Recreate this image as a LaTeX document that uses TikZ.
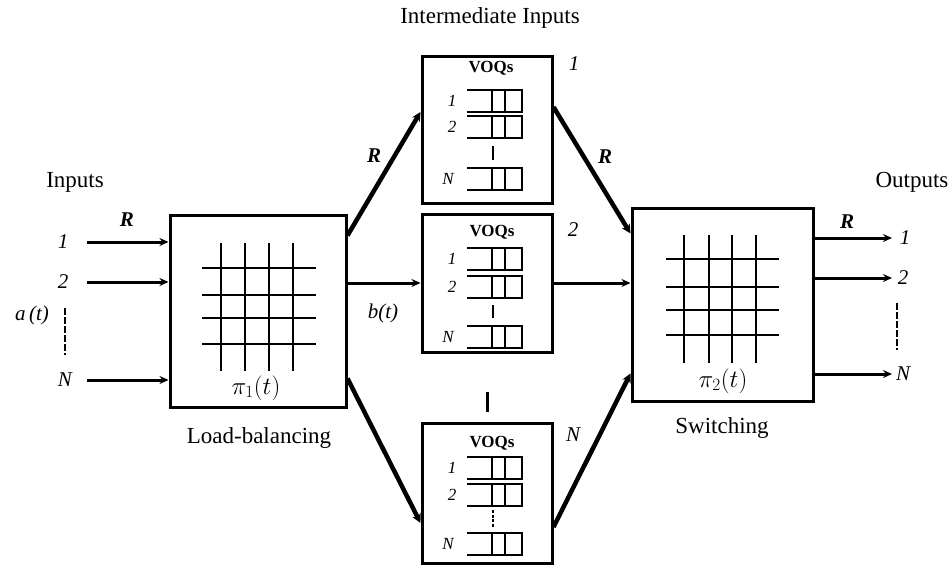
\documentclass[tikz,border=0pt]{standalone}
\usepackage{fontspec}
\setmainfont{Liberation Serif}
\usetikzlibrary{arrows.meta}
\begin{document}
\begin{tikzpicture}[x=1pt,y=-1pt,
  box/.style={draw, line width=3pt, inner sep=0pt},
  arr/.style={line width=3pt, -{Stealth[length=9pt,width=8pt]}},
  diag/.style={line width=4.5pt, -{Stealth[length=9pt,width=9pt]}},
  gridl/.style={line width=2pt},
  qline/.style={line width=1.8pt},
  big/.style={font=\fontsize{23}{25}\selectfont},
  lab/.style={font=\fontsize{21}{24}\selectfont\itshape},
  rlab/.style={font=\fontsize{21}{24}\selectfont\bfseries\itshape},
  qlab/.style={font=\fontsize{17}{19}\selectfont\itshape},
  voq/.style={font=\fontsize{17}{19}\selectfont\bfseries},
  pilab/.style={font=\fontsize{23}{26}\selectfont},
  dashv/.style={line width=1.2pt, dash pattern=on 7pt off 2pt},
  queue/.pic={
    \draw[qline] (0,0) -- (55,0) -- (55,22) -- (0,22);
    \draw[qline] (25,0) -- (25,22) (38,0) -- (38,22);
  }
]
\useasboundingbox (0,0) rectangle (950,567);

% titles
\node[big] (tin) at (75,182) {Inputs};
\node[big] (tint) at (490,18) {Intermediate Inputs};
\node[big] (tout) at (912,182) {Outputs};
\node[big] (tlb) at (259,438) {Load-balancing};
\node[big] (tsw) at (722,428) {Switching};

% switches
\node[box, minimum width=176pt, minimum height=192pt] (sw1) at (258,311) {};
\node[box, minimum width=181pt, minimum height=193pt] (sw2) at (722.5,304.5) {};

% grids
\foreach \x in {221,245,269,293} \draw[gridl] (\x,243) -- (\x,371);
\foreach \y in {268,295,318,344} \draw[gridl] (202,\y) -- (316,\y);
\foreach \x in {684,709,732,756} \draw[gridl] (\x,235) -- (\x,363);
\foreach \y in {259,287,310,335} \draw[gridl] (666,\y) -- (779,\y);
\node[pilab] (pi1) at (256,388) {$\pi_1(t)$};
\node[pilab] (pi2) at (723,381) {$\pi_2(t)$};

% intermediate boxes
\node[box, minimum width=130pt, minimum height=146pt] (tb) at (487,130) {};
\node[box, minimum width=130pt, minimum height=138pt] (mb) at (487,283) {};
\node[box, minimum width=130pt, minimum height=140pt] (bb) at (487,493) {};

% VOQs top box
\node[voq] (v1) at (491,68) {VOQs};
\pic at (467,90) {queue};
\pic at (467,116) {queue};
\pic at (467,168) {queue};
\node[qlab] (t1) at (452,101) {1};
\node[qlab] (t2) at (452,127) {2};
\node[qlab] (tN) at (448,179) {N};
\draw[line width=2.5pt] (493,146) -- (493,160);

% VOQs middle box
\node[voq] (v2) at (492,232) {VOQs};
\pic at (467,248) {queue};
\pic at (467,276) {queue};
\pic at (467,326) {queue};
\node[qlab] (m1) at (452,259) {1};
\node[qlab] (m2) at (452,287) {2};
\node[qlab] (mN) at (448,337) {N};
\draw[line width=2.5pt] (493,305) -- (493,318);

% VOQs bottom box
\node[voq] (v3) at (492,443) {VOQs};
\pic at (467,457) {queue};
\pic at (467,484) {queue};
\pic at (467,533) {queue};
\node[qlab] (b1) at (452,468) {1};
\node[qlab] (b2) at (452,495) {2};
\node[qlab] (bN) at (448,544) {N};
\draw[line width=2.5pt, dash pattern=on 3pt off 1.5pt] (493,510) -- (493,527);

% box labels
\node[lab] (n1) at (574,64) {1};
\node[lab] (n2) at (573,230) {2};
\node[lab] (nN) at (573,435) {N};

% bar between middle and bottom boxes
\draw[line width=3pt] ([yshift=30pt]bb.north) -- ([yshift=10pt]bb.north);

% inputs
\node[lab] (in1) at (63,242) {1};
\node[lab] (in2) at (63,282) {2};
\node[lab] (inN) at (65,380) {N};
\node[lab] (at) at (32,315) {a\,(t)};
\node[rlab] (rin) at (127,220) {R};
\coordinate (i1) at (87,242);
\coordinate (i2) at (87,282);
\coordinate (iN) at (87,380);
\draw[arr] (i1) -- (i1 -| sw1.west);
\draw[arr] (i2) -- (i2 -| sw1.west);
\draw[arr] (iN) -- (iN -| sw1.west);
\draw[dashv] (65,308) -- (65,355);

% outputs
\node[lab] (out1) at (905,238) {1};
\node[lab] (out2) at (903,278) {2};
\node[lab] (outN) at (903,374) {N};
\node[rlab] (rout) at (847,222) {R};
\coordinate (o1) at (892,238);
\coordinate (o2) at (892,278);
\coordinate (oN) at (892,374);
\draw[arr] (o1 -| sw2.east) -- (o1);
\draw[arr] (o2 -| sw2.east) -- (o2);
\draw[arr] (oN -| sw2.east) -- (oN);
\draw[dashv] (897,303) -- (897,350);

% load-balancing connectors
\draw[diag] ([yshift=-22pt]sw1.north east) -- ([yshift=18pt]tb.west);
\draw[arr] (mb.west -| sw1.east) -- (mb.west);
\draw[diag] ([yshift=30pt]sw1.south east) -- ([yshift=-30pt]bb.west);
\node[rlab] (r1) at (374,156) {R};
\node[lab] (bt) at (383,313) {b(t)};

% switching connectors
\draw[diag] ([yshift=23pt]tb.east) -- ([yshift=-27pt]sw2.north west);
\draw[arr] (mb.east) -- (mb.east -| sw2.west);
\draw[diag] ([yshift=-34pt]bb.east) -- ([yshift=29pt]sw2.south west);
\node[rlab] (r2) at (605,157) {R};
\end{tikzpicture}
\end{document}
